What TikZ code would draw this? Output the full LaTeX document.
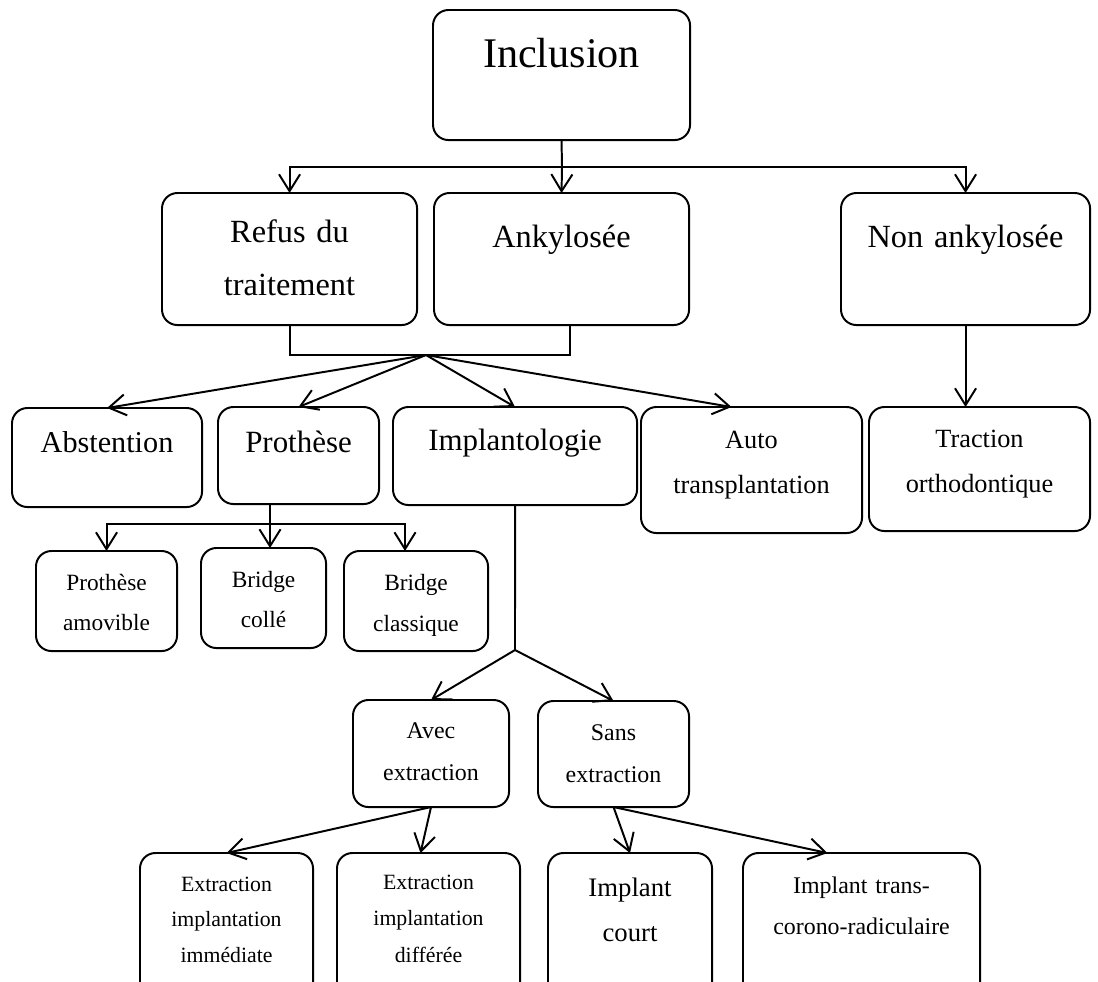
\documentclass[tikz,border=0pt]{standalone}
\usepackage{fontspec}
\setmainfont{Liberation Serif}
\usetikzlibrary{arrows.meta, calc}

\begin{document}
\begin{tikzpicture}[
  x=0.025cm, y=-0.025cm,
  line width=1.4pt,
  bloc/.style={
    draw, rounded corners=11pt,
    anchor=north west,
    inner xsep=0pt, inner ysep=0pt,
    outer sep=0pt, align=center
  },
  arrow/.style={
    -{Straight Barb[length=12pt, width=15pt]}}
]
\useasboundingbox (0,0) rectangle (1098,981);

% niveau 1
\node[bloc, font=\fontsize{30pt}{36pt}\selectfont,
  text width=6.425cm, text height=1.425cm, text depth=1.825cm]
  (incl) at (433,10) {Inclusion};

% niveau 2
\node[bloc, font=\fontsize{23pt}{38.3pt}\selectfont,
  text width=6.375cm, text height=1.225cm, text depth=2.075cm]
  (refus) at (162,193) {Refus du\\traitement};
\node[bloc, font=\fontsize{23pt}{38.3pt}\selectfont,
  text width=6.375cm, text height=1.35cm, text depth=1.95cm]
  (ank) at (434,193) {Ankylosée};
\node[bloc, font=\fontsize{23pt}{38.3pt}\selectfont,
  text width=6.225cm, text height=1.35cm, text depth=1.95cm]
  (nonank) at (841,193) {Non ankylosée};

% niveau 3
\node[bloc, font=\fontsize{21.5pt}{30pt}\selectfont,
  text width=4.75cm, text height=1.1cm, text depth=1.375cm]
  (abst) at (12,408) {Abstention};
\node[bloc, font=\fontsize{22pt}{30pt}\selectfont,
  text width=4.025cm, text height=1.125cm, text depth=1.3cm]
  (proth) at (218,407) {Prothèse};
\node[bloc, font=\fontsize{22pt}{30pt}\selectfont,
  text width=6.1cm, text height=1.075cm, text depth=1.375cm]
  (implanto) at (393,407) {Implantologie};
\node[bloc, font=\fontsize{18.7pt}{32.6pt}\selectfont,
  text width=5.525cm, text height=1.025cm, text depth=2.125cm]
  (auto) at (641,407) {Auto\\transplantation};
\node[bloc, font=\fontsize{18.7pt}{32.6pt}\selectfont,
  text width=5.525cm, text height=1.0cm, text depth=2.1cm]
  (traction) at (869,407) {Traction\\orthodontique};

% prothèses
\node[bloc, font=\fontsize{16.6pt}{29pt}\selectfont,
  text width=3.525cm, text height=0.975cm, text depth=1.525cm]
  (pamov) at (36,551) {Prothèse\\amovible};
\node[bloc, font=\fontsize{16.6pt}{28.5pt}\selectfont,
  text width=3.125cm, text height=0.975cm, text depth=1.525cm]
  (bcolle) at (201,548) {Bridge\\collé};
\node[bloc, font=\fontsize{16.6pt}{29.5pt}\selectfont,
  text width=3.6cm, text height=0.975cm, text depth=1.525cm]
  (bclass) at (344,551) {Bridge\\classique};

% implantologie
\node[bloc, font=\fontsize{17pt}{30.5pt}\selectfont,
  text width=3.9cm, text height=0.95cm, text depth=1.725cm]
  (avec) at (353,700) {Avec\\extraction};
\node[bloc, font=\fontsize{17pt}{30pt}\selectfont,
  text width=3.775cm, text height=0.975cm, text depth=1.675cm]
  (sans) at (538,701) {Sans\\extraction};

\node[bloc, font=\fontsize{15.5pt}{25.5pt}\selectfont,
  text width=4.325cm, text height=0.95cm, text depth=2.725cm]
  (eximm) at (140,853) {Extraction\\implantation\\immédiate};
\node[bloc, font=\fontsize{15.5pt}{26.2pt}\selectfont,
  text width=4.575cm, text height=0.9cm, text depth=2.775cm]
  (exdiff) at (337,853) {Extraction\\implantation\\différée};
\node[bloc, font=\fontsize{19pt}{32pt}\selectfont,
  text width=4.1cm, text height=1.075cm, text depth=2.6cm]
  (icourt) at (548,853) {Implant\\court};
\node[bloc, font=\fontsize{17pt}{29.8pt}\selectfont,
  text width=5.925cm, text height=1.0cm, text depth=2.675cm]
  (itrans) at (743,853) {Implant trans-\\corono-radiculaire};

% liaisons
\coordinate (split) at (562,167);
\draw (incl.south) -- (split);
\draw[arrow] (split) -| (refus.north);
\draw[arrow] (split) -- (ank.north);
\draw[arrow] (split) -| (nonank.north);

\coordinate (join) at (426,355);
\draw (refus.south) |- (join);
\draw ($(ank.south)+(8,0)$) |- (join);
\draw[arrow] (join) -- (abst.north);
\draw[arrow] (join) -- (proth.north);
\draw[arrow] (join) -- (implanto.north);
\draw[arrow] (join) -- ($(auto.north)+(-20,0)$);

\draw[arrow] (nonank.south) -- (nonank.south |- traction.north);

\coordinate (psplit) at (270,524);
\draw (psplit |- proth.south) -- (psplit);
\draw[arrow] (psplit) -| (pamov.north);
\draw[arrow] (psplit) -- (psplit |- bcolle.north);
\draw[arrow] (psplit) -| ($(bclass.north)+(-11,0)$);

\coordinate (isplit) at (515,650);
\draw (implanto.south) -- (isplit);
\draw[arrow] (isplit) -- (avec.north);
\draw[arrow] (isplit) -- (sans.north);

\draw[arrow] (avec.south) -- (eximm.north);
\draw[arrow] (avec.south) -- ($(exdiff.north)+(-8,0)$);
\draw[arrow] (sans.south) -- (icourt.north);
\draw[arrow] (sans.south) -- ($(itrans.north)+(-34,0)$);

\end{tikzpicture}
\end{document}
